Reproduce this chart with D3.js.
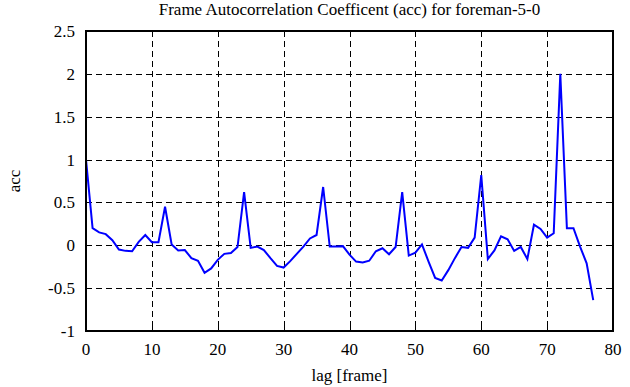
<!DOCTYPE html>
<html>
<head>
<meta charset="utf-8">
<script src="https://cdn.jsdelivr.net/npm/d3@7/dist/d3.min.js"></script>
<style>
  html, body { margin: 0; padding: 0; background: #fff; }
  svg { display: block; }
</style>
</head>
<body>
<script>
const titleText = "Frame Autocorrelation Coefficent (acc) for foreman-5-0";
const xLabel = "lag [frame]";
const yLabel = "acc";
const xTicks = [0, 10, 20, 30, 40, 50, 60, 70, 80];
const yTicks = [-1, -0.5, 0, 0.5, 1, 1.5, 2, 2.5];
const yTickLabels = ["-1", "-0.5", "0", "0.5", "1", "1.5", "2", "2.5"];
const lags = d3.range(0, 78);
const acc = [
  1.0, 0.2, 0.15, 0.13, 0.06, -0.05, -0.065, -0.07, 0.04, 0.12,
  0.035, 0.035, 0.45, 0.01, -0.06, -0.055, -0.15, -0.18, -0.32, -0.27,
  -0.17, -0.1, -0.09, -0.02, 0.62, -0.03, -0.015, -0.055, -0.15, -0.24,
  -0.26, -0.185, -0.1, -0.015, 0.08, 0.12, 0.68, -0.015, -0.015, -0.01,
  -0.11, -0.19, -0.2, -0.18, -0.07, -0.035, -0.105, -0.02, 0.62, -0.12,
  -0.085, 0.01, -0.19, -0.38, -0.41, -0.29, -0.15, -0.02, -0.03, 0.09,
  0.82, -0.16, -0.06, 0.105, 0.07, -0.066, -0.02, -0.16, 0.24, 0.19,
  0.09, 0.14, 2.0, 0.2, 0.2, -0.015, -0.21, -0.64
];

const W = 630, H = 387;
const margin = {left: 86, top: 31, right: 17, bottom: 56};
const iw = W - margin.left - margin.right;
const ih = H - margin.top - margin.bottom;
const FONT = "'Liberation Serif', 'Times New Roman', Times, serif";

const svg = d3.select("body").append("svg").attr("width", W).attr("height", H)
  .attr("font-family", FONT);
const g = svg.append("g").attr("transform", `translate(${margin.left},${margin.top})`);

const x = d3.scaleLinear().domain([0, 80]).range([0, iw]);
const y = d3.scaleLinear().domain([-1, 2.5]).range([ih, 0]);

// grid
g.append("g").selectAll("line").data(xTicks.slice(1, -1)).join("line")
  .attr("x1", d => Math.round(x(d)) + 0.5).attr("x2", d => Math.round(x(d)) + 0.5)
  .attr("y1", 0).attr("y2", ih)
  .attr("stroke", "#000").attr("stroke-width", 1).attr("stroke-dasharray", "6,4");
g.append("g").selectAll("line").data(yTicks.slice(1, -1)).join("line")
  .attr("y1", d => Math.round(y(d)) + 0.5).attr("y2", d => Math.round(y(d)) + 0.5)
  .attr("x1", 0).attr("x2", iw)
  .attr("stroke", "#000").attr("stroke-width", 1).attr("stroke-dasharray", "6,4");

// inward ticks on all sides
const tl = 5;
const ticksG = g.append("g").attr("stroke", "#000").attr("stroke-width", 1);
xTicks.forEach(d => {
  const px = Math.round(x(d)) + 0.5;
  ticksG.append("line").attr("x1", px).attr("x2", px).attr("y1", ih).attr("y2", ih - tl);
  ticksG.append("line").attr("x1", px).attr("x2", px).attr("y1", 0).attr("y2", tl);
});
yTicks.forEach(d => {
  const py = Math.round(y(d)) + 0.5;
  ticksG.append("line").attr("y1", py).attr("y2", py).attr("x1", 0).attr("x2", tl);
  ticksG.append("line").attr("y1", py).attr("y2", py).attr("x1", iw).attr("x2", iw - tl);
});

// data line
const line = d3.line().x((d, i) => x(lags[i])).y(d => y(d));
g.append("path").datum(acc).attr("d", line)
  .attr("fill", "none").attr("stroke", "#0000ff").attr("stroke-width", 2)
  .attr("stroke-linejoin", "miter");

// frame
g.append("rect").attr("x", 0).attr("y", 0).attr("width", iw).attr("height", ih)
  .attr("fill", "none").attr("stroke", "#000").attr("stroke-width", 2);

// tick labels
const fs = 17;
g.append("g").selectAll("text").data(xTicks).join("text")
  .attr("x", d => x(d)).attr("y", ih + 24)
  .attr("font-family", FONT)
  .attr("text-anchor", "middle").attr("font-size", fs).text(d => d);
g.append("g").selectAll("text").data(yTicks).join("text")
  .attr("x", -11).attr("y", d => y(d) + 6)
  .attr("font-family", FONT)
  .attr("text-anchor", "end").attr("font-size", fs).text((d, i) => yTickLabels[i]);

// titles
svg.append("text").attr("x", margin.left + iw / 2).attr("y", 15)
  .attr("font-family", FONT)
  .attr("text-anchor", "middle").attr("font-size", fs).text(titleText);
svg.append("text").attr("x", margin.left + iw / 2).attr("y", 381)
  .attr("font-family", FONT)
  .attr("text-anchor", "middle").attr("font-size", fs).text(xLabel);
svg.append("text").attr("transform", `translate(20,${margin.top + ih / 2}) rotate(-90)`)
  .attr("font-family", FONT)
  .attr("text-anchor", "middle").attr("font-size", fs).text(yLabel);
</script>
</body>
</html>
